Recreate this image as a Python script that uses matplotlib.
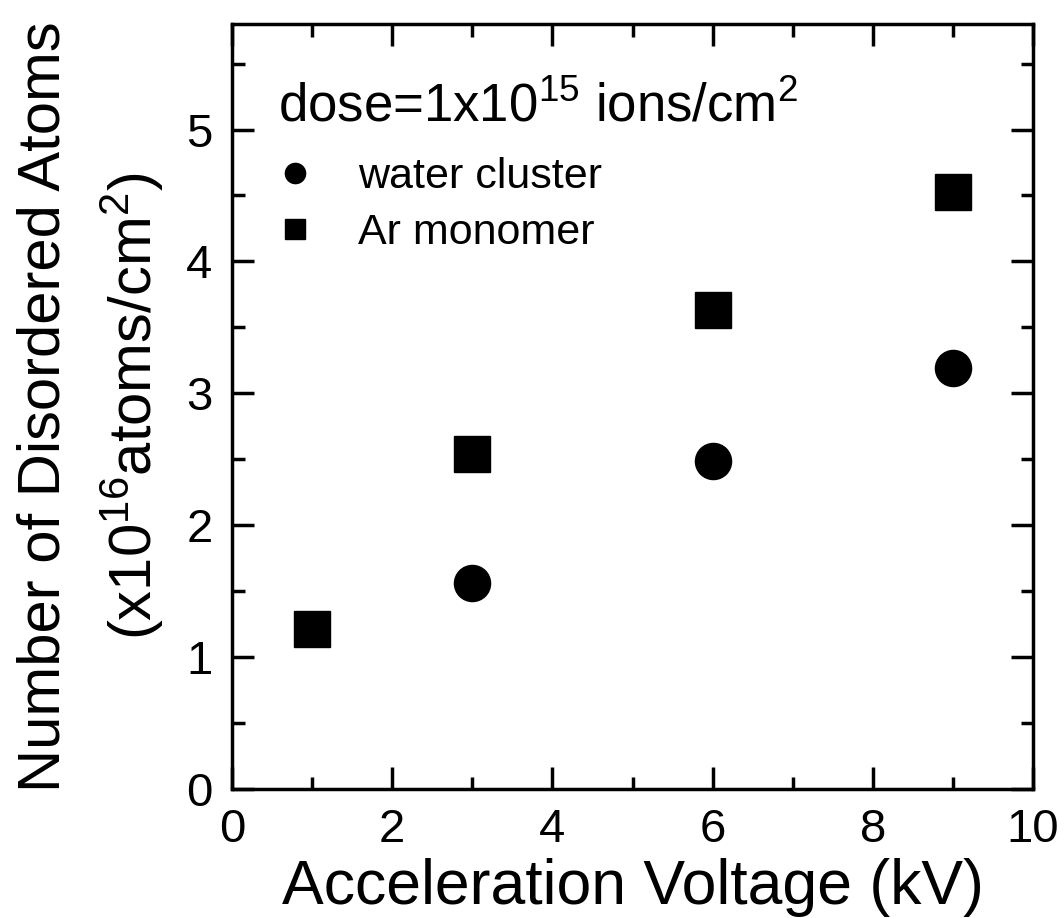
import matplotlib
matplotlib.use("Agg")
import matplotlib.pyplot as plt
from matplotlib.ticker import MultipleLocator

plt.rcParams['font.family'] = ['Liberation Sans', 'DejaVu Sans']
plt.rcParams['mathtext.fontset'] = 'custom'
plt.rcParams['mathtext.rm'] = 'Liberation Sans'
plt.rcParams['mathtext.it'] = 'Liberation Sans'

water_x = [3, 6, 9]
water_y = [1.56, 2.49, 3.19]
ar_x = [1, 3, 6, 9]
ar_y = [1.21, 2.54, 3.63, 4.53]

fig = plt.figure(figsize=(10.64, 9.18), dpi=100)
ax = fig.add_axes([232/1064, 1-789/918, (1033-232)/1064, (789-24)/918])

h1, = ax.plot(water_x, water_y, 'o', color='black', ms=26, linestyle='none', label='water cluster')
h2, = ax.plot(ar_x, ar_y, 's', color='black', ms=26, linestyle='none', label='Ar monomer')

ax.set_xlim(0, 10)
ax.set_ylim(0, 5.8)
ax.xaxis.set_major_locator(MultipleLocator(2))
ax.xaxis.set_minor_locator(MultipleLocator(1))
ax.yaxis.set_major_locator(MultipleLocator(1))
ax.yaxis.set_minor_locator(MultipleLocator(0.5))
ax.tick_params(which='both', direction='in', top=True, right=True, width=2.5, labelsize=34, pad=14)
ax.tick_params(which='major', length=16)
ax.tick_params(which='minor', length=9)
for s in ax.spines.values():
    s.set_linewidth(2.5)

ax.set_xlabel('Acceleration Voltage (kV)', fontsize=45, labelpad=4)
ax.set_ylabel('Number of Disordered Atoms\n(x10$^{16}$atoms/cm$^{2}$)', fontsize=43, linespacing=1.52)
ax.yaxis.set_label_coords(-0.082, 0.5)

ax.text(0.057, 0.872, 'dose=1x10$^{15}$ ions/cm$^{2}$', transform=ax.transAxes, fontsize=38,
        va='baseline', ha='left')
leg = ax.legend(handles=[h1, h2], loc='upper left', bbox_to_anchor=(0.025, 0.826), frameon=False,
                fontsize=31, markerscale=0.56, handlelength=2.0, handletextpad=0.47,
                labelspacing=0.37, borderaxespad=0, borderpad=0)

fig.savefig('out.png', dpi=100)
